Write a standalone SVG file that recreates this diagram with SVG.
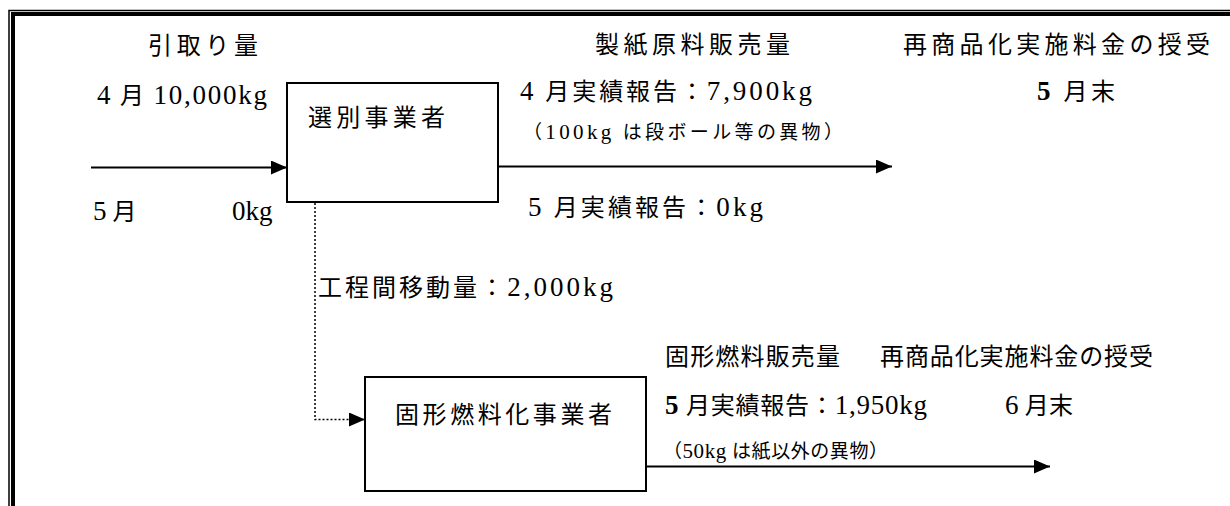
<svg xmlns="http://www.w3.org/2000/svg" width="1230" height="506" viewBox="0 0 1230 506">
<style>
text{font-family:"Liberation Serif","Noto Sans CJK JP",serif;font-size:24px;fill:#000}
.s{font-size:19px}
.l{font-size:27px}
.sl{font-size:21px}
.box{fill:#fff;stroke:#000;stroke-width:2}
.ln{fill:none;stroke:#000;stroke-width:2}
.dot{fill:none;stroke:#000;stroke-width:1.5;stroke-dasharray:2 2}
</style>
<defs>
<marker id="ah" markerUnits="userSpaceOnUse" markerWidth="16" markerHeight="14" refX="16" refY="7" orient="auto"><path d="M0,0 L16,7 L0,14 z" fill="#000"/></marker>
</defs>
<rect width="1230" height="506" fill="#fff"/>
<g id="frame">
<path d="M9 506 V10.5 H1230" fill="none" stroke="#000" stroke-width="1.5"/>
<path d="M13 506 V14 H1230" fill="none" stroke="#000" stroke-width="4"/>
</g>
<g id="connectors">
<path class="ln" d="M91 167.5 H287" marker-end="url(#ah)"/>
<path class="ln" d="M499 166.5 H892" marker-end="url(#ah)"/>
<path class="dot" d="M315 203 V419.5 H365" marker-end="url(#ah)"/>
<path class="ln" d="M647 466.5 H1050" marker-end="url(#ah)"/>
</g>
<g id="node-sorting">
<rect class="box" x="287" y="83" width="211" height="119"/>
<text x="308" y="126" textLength="137" lengthAdjust="spacing">選別事業者</text>
</g>
<g id="node-fuel">
<rect class="box" x="365" y="377" width="281" height="114"/>
<text x="395" y="423" textLength="217" lengthAdjust="spacing">固形燃料化事業者</text>
</g>
<g id="labels">
<text x="148" y="54" textLength="110" lengthAdjust="spacing">引取り量</text>
<text x="97" y="104" textLength="170" lengthAdjust="spacing"><tspan class="l">4</tspan> 月 <tspan class="l">10,000kg</tspan></text>
<text x="93" y="220"><tspan class="l">5</tspan> 月<tspan class="l" x="232">0kg</tspan></text>
<text x="595" y="53" textLength="195" lengthAdjust="spacing">製紙原料販売量</text>
<text x="520" y="100" textLength="292" lengthAdjust="spacing"><tspan class="l">4</tspan> 月実績報告：<tspan class="l">7,900kg</tspan></text>
<text class="s" x="523" y="139" textLength="320" lengthAdjust="spacing">（<tspan class="sl">100kg</tspan> は段ボール等の異物）</text>
<text x="528" y="216" textLength="235" lengthAdjust="spacing"><tspan class="l">5</tspan> 月実績報告：<tspan class="l">0kg</tspan></text>
<text x="903" y="53" textLength="307" lengthAdjust="spacing">再商品化実施料金の授受</text>
<text x="1037" y="100" textLength="78" lengthAdjust="spacing"><tspan class="l" font-weight="bold">5</tspan> 月末</text>
<text x="318" y="296" textLength="295" lengthAdjust="spacing">工程間移動量：<tspan class="l">2,000kg</tspan></text>
<text x="665" y="365" textLength="175" lengthAdjust="spacing">固形燃料販売量</text>
<text x="880" y="365" textLength="273" lengthAdjust="spacing">再商品化実施料金の授受</text>
<text x="665" y="414" textLength="262" lengthAdjust="spacing"><tspan class="l" font-weight="bold">5</tspan> 月実績報告：<tspan class="l">1,950kg</tspan></text>
<text x="1005" y="414" textLength="68" lengthAdjust="spacing"><tspan class="l">6</tspan> 月末</text>
<text class="s" x="663" y="458" textLength="225" lengthAdjust="spacing">（<tspan class="sl">50kg</tspan> は紙以外の異物）</text>
</g>
</svg>
